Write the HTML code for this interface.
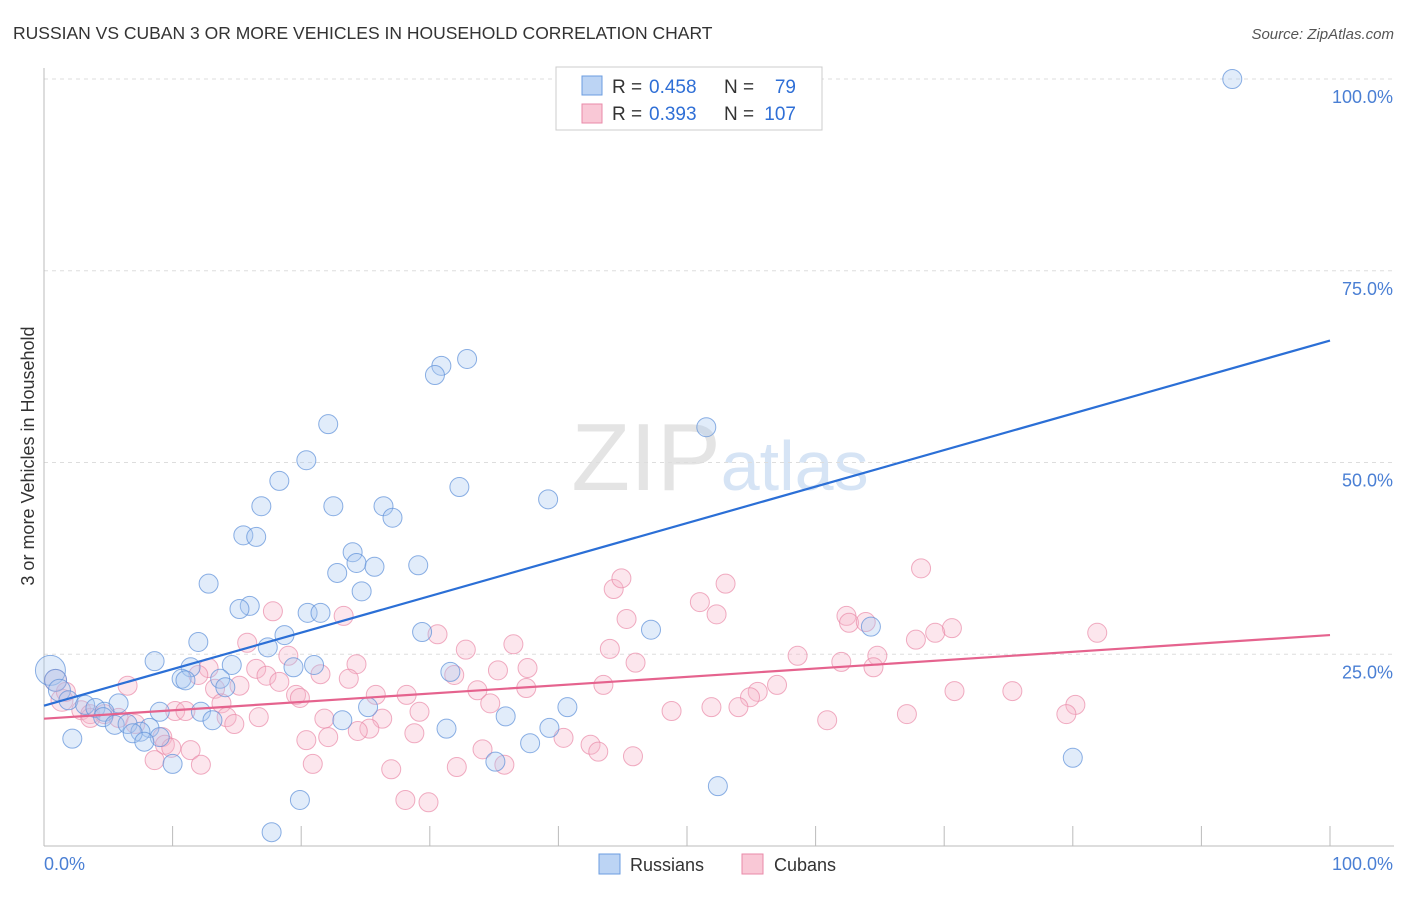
<!DOCTYPE html>
<html><head><meta charset="utf-8"><style>
body{margin:0;background:#fff;font-family:"Liberation Sans",sans-serif;}
svg text{font-family:"Liberation Sans",sans-serif;}
</style></head><body>
<svg id="chart" width="1406" height="892" xmlns="http://www.w3.org/2000/svg">
<text x="13" y="39" font-size="17.5" fill="#333">RUSSIAN VS CUBAN 3 OR MORE VEHICLES IN HOUSEHOLD CORRELATION CHART</text>
<text x="1394" y="39" font-size="15" fill="#555" text-anchor="end" font-style="italic">Source: ZipAtlas.com</text>
<text x="720" y="490" font-size="96" text-anchor="middle" fill="#e4e4e4" font-family="Liberation Serif">ZIP<tspan fill="#d6e4f5" font-family="Liberation Sans" font-size="70">atlas</tspan></text>
<g id="grid"></g>
<g id="axes"></g>
<g id="pts"></g>
<g id="lines"></g>
<text transform="translate(34,456) rotate(-90)" font-size="18" fill="#333" text-anchor="middle">3 or more Vehicles in Household</text>
<g>
<rect x="556" y="67" width="266" height="63" fill="#fff" stroke="#ccc"/>
<rect x="582" y="76" width="20" height="19" fill="#bcd4f4" stroke="#6b9de0"/>
<rect x="582" y="104" width="20" height="19" fill="#f9c8d6" stroke="#e98aa8"/>
<text x="612" y="93" font-size="19" fill="#333">R =</text>
<text x="649" y="93" font-size="19" fill="#2f6fd6">0.458</text>
<text x="724" y="93" font-size="19" fill="#333">N =</text>
<text x="796" y="93" font-size="19" fill="#2f6fd6" text-anchor="end">79</text>
<text x="612" y="120" font-size="19" fill="#333">R =</text>
<text x="649" y="120" font-size="19" fill="#2f6fd6">0.393</text>
<text x="724" y="120" font-size="19" fill="#333">N =</text>
<text x="796" y="120" font-size="19" fill="#2f6fd6" text-anchor="end">107</text>
</g>
<g>
<rect x="599" y="854" width="21" height="20" fill="#bcd4f4" stroke="#6b9de0"/>
<text x="630" y="871" font-size="18" fill="#333">Russians</text>
<rect x="742" y="854" width="21" height="20" fill="#f9c8d6" stroke="#e98aa8"/>
<text x="774" y="871" font-size="18" fill="#333">Cubans</text>
</g>
</svg>
<script>
const yTicks=[25,50,75,100];
const yTickLabels=["25.0%","50.0%","75.0%","100.0%"];
const xTicks=[0,10,20,30,40,50,60,70,80,90,100];
const russiansX=[92.4,51.0,32.9,30.9,30.4,22.1,51.5,20.4,32.3,39.2,18.3,16.9,22.5,26.4,27.1,15.5,16.5,24.0,24.3,25.7,29.1,22.8,12.8,24.7,16.0,15.2,20.5,21.5,29.4,47.2,64.3,18.7,12.0,17.4,8.6,14.6,21.0,11.4,19.4,31.6,10.7,11.0,13.7,14.1,0.5,0.9,1.2,1.9,3.2,4.0,5.8,4.7,9.0,12.2,4.6,25.2,40.7,35.9,23.2,13.1,5.5,6.5,8.2,7.5,6.9,9.0,31.3,39.3,7.8,2.2,37.8,10.0,35.1,80.0,52.4,19.9,17.7];
const russiansY=[100,99.9,63.5,62.6,61.4,55.0,54.6,50.3,46.8,45.2,47.6,44.3,44.3,44.3,42.8,40.5,40.3,38.3,36.9,36.4,36.6,35.6,34.2,33.2,31.3,30.9,30.4,30.4,27.9,28.2,28.6,27.5,26.6,25.9,24.1,23.6,23.6,23.3,23.3,22.7,21.8,21.6,21.8,20.7,22.9,21.6,20.3,19.0,18.4,18.0,18.6,17.5,17.5,17.5,16.8,18.1,18.1,16.9,16.4,16.4,15.8,15.9,15.4,14.9,14.7,14.2,15.3,15.4,13.6,14.0,13.4,10.7,11.0,11.5,7.8,6.0,1.8];
const cubansX=[44.3,44.9,53.0,68.2,51.0,52.3,45.3,62.4,62.6,63.9,70.6,69.3,67.8,81.9,17.8,23.3,30.6,36.5,15.8,44.0,32.8,19.0,58.6,64.8,62.0,64.5,24.3,46.0,12.8,16.5,37.6,35.3,31.9,21.5,17.3,12.0,23.7,18.3,6.5,15.2,13.3,43.5,57.0,33.7,37.5,55.5,54.9,19.6,19.9,25.8,28.2,70.8,75.3,34.7,13.8,80.2,79.5,1.4,2.9,3.6,4.7,3.6,5.8,10.2,11.0,29.2,48.8,51.9,54.0,67.1,16.7,14.2,21.8,26.3,14.8,60.9,7.1,25.3,24.4,9.2,28.8,22.1,20.4,40.4,9.4,9.9,42.5,11.4,34.1,43.1,45.8,8.6,12.2,20.9,32.1,35.8,27.0,28.1,29.9,0.9,1.7];
const cubansY=[33.5,34.9,34.2,36.2,31.8,30.2,29.6,30.0,29.1,29.2,28.4,27.8,26.9,27.8,30.6,30.0,27.6,26.3,26.5,25.7,25.6,24.8,24.8,24.8,24.0,23.3,23.7,23.9,23.2,23.1,23.2,22.9,22.3,22.4,22.2,22.3,21.8,21.4,20.9,20.9,20.5,21.0,21.0,20.3,20.6,20.1,19.4,19.7,19.3,19.7,19.7,20.2,20.2,18.6,18.6,18.4,17.2,19.0,17.7,17.2,17.2,16.7,16.7,17.6,17.6,17.5,17.6,18.1,18.1,17.2,16.8,16.8,16.6,16.6,15.9,16.4,15.9,15.3,15.0,14.2,14.7,14.2,13.8,14.1,13.2,12.8,13.2,12.5,12.6,12.3,11.7,11.2,10.6,10.7,10.3,10.6,10.0,6.0,5.7,21.6,20.1];
const russiansTrend=[18.3,65.9];
const cubansTrend=[16.6,27.5];

const NS="http://www.w3.org/2000/svg";
const X0=44,X1=1330,Y0=846,Y100=79;
function xs(v){return X0+(X1-X0)*v/100;}
function ys(v){return Y0-(Y0-Y100)*v/100;}
function mk(tag,attrs,parent){const e=document.createElementNS(NS,tag);for(const k in attrs)e.setAttribute(k,attrs[k]);parent.appendChild(e);return e;}
const grid=document.getElementById('grid'),axes=document.getElementById('axes'),pts=document.getElementById('pts'),lines=document.getElementById('lines');
yTicks.forEach((t,i)=>{
  const l=mk('line',{x1:X0,x2:1394,y1:ys(t),y2:ys(t),stroke:'#ddd','stroke-dasharray':'4,4'},grid);
  
  
  const tx=mk('text',{x:1393,y:ys(t)+24,'font-size':18,fill:'#4a7fd4','text-anchor':'end'},axes);
  tx.textContent=yTickLabels[i];
  
  
});
const ax=mk('line',{x1:X0,x2:1394,y1:Y0,y2:Y0,stroke:'#bbb'},axes);


const ay=mk('line',{x1:X0,x2:X0,y1:68,y2:Y0,stroke:'#bbb'},axes);


xTicks.forEach(t=>{
  const l=mk('line',{x1:xs(t),x2:xs(t),y1:826,y2:Y0,stroke:'#bbb'},axes);
  
  
});
const xl0=mk('text',{x:44,y:870,'font-size':18,fill:'#4a7fd4'},axes);xl0.textContent='0.0%';


const xl1=mk('text',{x:1393,y:870,'font-size':18,fill:'#4a7fd4','text-anchor':'end'},axes);xl1.textContent='100.0%';


function draw(X,Y,fill,stroke,name){
  X.forEach((x,i)=>{
    const r=x<1.5?(name==='russians-point'&&i===44?15:11):9.5;
    const c=mk('circle',{cx:xs(x),cy:ys(Y[i]),r:r,fill:fill,'fill-opacity':0.35,stroke:stroke,'stroke-width':1,'stroke-opacity':0.7},pts);
    
    
  });
}
draw(cubansX,cubansY,'#f7b8cb','#e98aa8','cubans-point');
draw(russiansX,russiansY,'#aac8f0','#5b8fd8','russians-point');
const lb=mk('line',{x1:xs(0),y1:ys(russiansTrend[0]),x2:xs(100),y2:ys(russiansTrend[1]),stroke:'#2b6fd6','stroke-width':2.2},lines);


const lp=mk('line',{x1:xs(0),y1:ys(cubansTrend[0]),x2:xs(100),y2:ys(cubansTrend[1]),stroke:'#e5638e','stroke-width':2.2},lines);


</script>
</body></html>
